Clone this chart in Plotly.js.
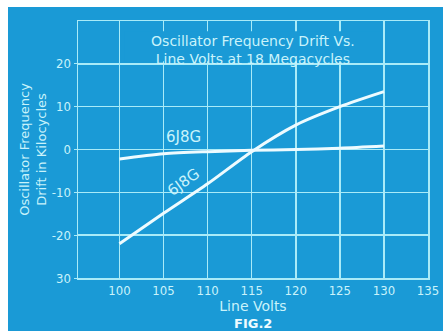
<!DOCTYPE html>
<html>
<head>
<meta charset="utf-8">
<script src="https://cdn.plot.ly/plotly-3.0.1.min.js"></script>
<style>
  html, body { margin: 0; padding: 0; background: #ffffff; }
  #chart { position: absolute; left: 8px; top: 7px; width: 435px; height: 324px; }
</style>
</head>
<body>
<div id="chart"></div>
<script>
// Line voltage (volts)
const lineVolts = [100, 105, 110, 115, 120, 125, 130];
// Oscillator frequency drift (kilocycles) for each tube
const drift6J8G_flat = [-2.2, -1.0, -0.5, -0.2, 0.0, 0.3, 0.8];
const drift6J8G_steep = [-22.0, -14.9, -8.0, -0.5, 5.7, 10.0, 13.5];

// Tick positions and labels as lettered on the chart
const xTickVals = [100, 105, 110, 115, 120, 125, 130, 135];
const yTickVals = [-30, -20, -10, 0, 10, 20];
const yTickText = ['30', '-20', '-10', '0', '10', '20'];

const BG = '#1a9ad6';
const GRID = '#a9ebf8';
const INK = '#eefbff';
const TXT = '#c9f3fb';
const FONT = 'DejaVu Sans, sans-serif';
const NARROW = 'DejaVu Sans Condensed, DejaVu Sans, sans-serif';

const traces = [
  {
    x: lineVolts, y: drift6J8G_flat, mode: 'lines', type: 'scatter',
    line: { color: INK, width: 3, shape: 'spline', smoothing: 0.8 },
    hoverinfo: 'skip', showlegend: false
  },
  {
    x: lineVolts, y: drift6J8G_steep, mode: 'lines', type: 'scatter',
    line: { color: INK, width: 3, shape: 'spline', smoothing: 0.8 },
    hoverinfo: 'skip', showlegend: false
  }
];

const layout = {
  width: 435, height: 324,
  margin: { l: 70, r: 15, t: 14, b: 53 },
  paper_bgcolor: BG, plot_bgcolor: BG,
  font: { family: FONT, color: TXT, size: 13 },
  title: {
    text: 'Oscillator Frequency Drift Vs.<br>Line Volts at 18 Megacycles',
    font: { family: FONT, size: 14, color: TXT },
    xref: 'container', yref: 'container',
    x: 0.563, xanchor: 'center',
    y: 0.881, yanchor: 'middle'
  },
  xaxis: {
    range: [95.3, 135],
    tickvals: xTickVals,
    ticks: '', showgrid: true, gridcolor: GRID, gridwidth: 1.5,
    zeroline: false, showline: true, mirror: true, linecolor: GRID, linewidth: 1.5,
    tickfont: { family: NARROW, size: 13, color: TXT },
    title: { text: 'Line Volts', font: { family: FONT, size: 14, color: TXT }, standoff: 2 },
    fixedrange: true
  },
  yaxis: {
    range: [-30, 30],
    tickvals: yTickVals, ticktext: yTickText,
    ticks: 'outside', ticklen: 3, tickcolor: GRID,
    showgrid: true, gridcolor: GRID, gridwidth: 1.5,
    zeroline: false, showline: true, mirror: true, linecolor: GRID, linewidth: 1.5,
    tickfont: { family: NARROW, size: 13, color: TXT },
    title: { text: 'Oscillator Frequency<br>Drift in Kilocycles', font: { family: FONT, size: 13, color: TXT }, standoff: 2 },
    fixedrange: true
  },
  shapes: [
    // blank panel behind the chart heading
    { type: 'rect', xref: 'x', yref: 'y', x0: 100.6, x1: 129.6, y0: 20.6, y1: 27.6,
      fillcolor: BG, line: { width: 0 }, layer: 'between' }
  ],
  annotations: [
    { x: 107.3, y: 2.9, xref: 'x', yref: 'y', text: '6J8G', showarrow: false,
      font: { family: FONT, size: 15, color: TXT } },
    { x: 107.3, y: -7.6, xref: 'x', yref: 'y', text: '6J8G', showarrow: false, textangle: -36,
      font: { family: FONT, size: 15, color: TXT } },
    { x: 0.5, y: -0.178, xref: 'paper', yref: 'paper', xanchor: 'center', yanchor: 'middle',
      text: '<b>FIG.2</b>', showarrow: false, font: { family: FONT, size: 13, color: INK } }
  ]
};

Plotly.newPlot('chart', traces, layout, { staticPlot: true, displayModeBar: false });
</script>
</body>
</html>
